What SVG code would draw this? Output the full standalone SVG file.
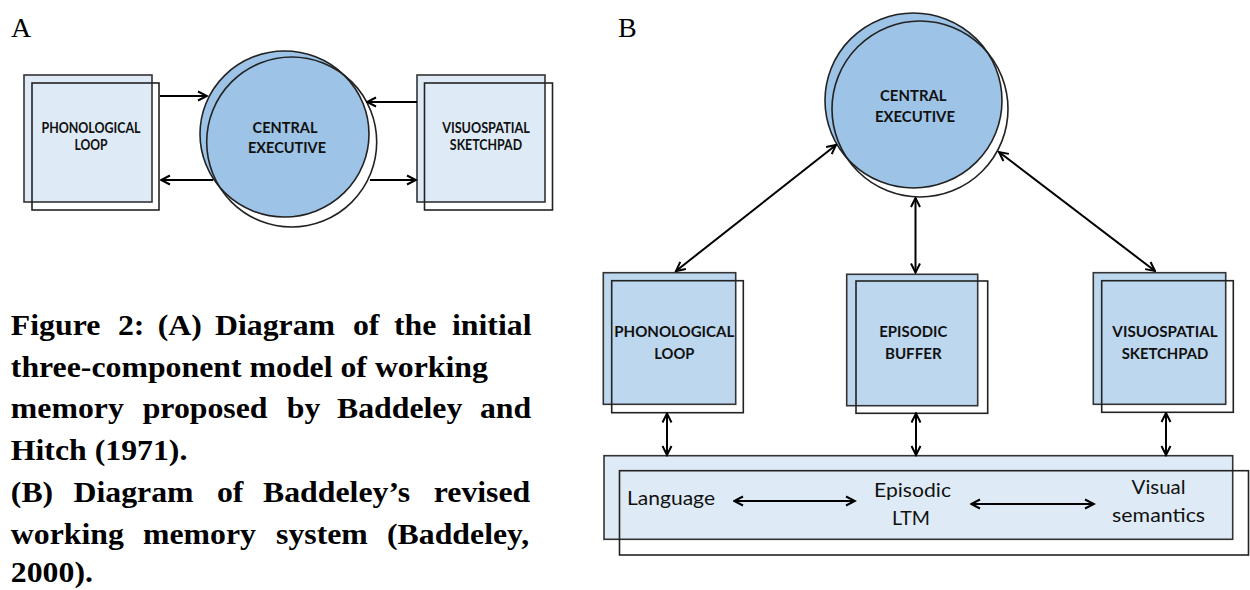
<svg xmlns="http://www.w3.org/2000/svg" width="1250" height="590" viewBox="0 0 1250 590">
<defs>
<marker id="arr" viewBox="0 0 12 12" refX="10.5" refY="6" markerWidth="12" markerHeight="12" markerUnits="userSpaceOnUse" orient="auto-start-reverse">
<path d="M1.5,1.5 L10.5,6 L1.5,10.5" fill="none" stroke="#000" stroke-width="2" stroke-linejoin="miter"/>
</marker>
<style>
.bg{fill:#fff}
.fa{fill:#deebf7;stroke:#333;stroke-width:1.6}
.fb{fill:#bdd7ee;stroke:#333;stroke-width:1.6}
.ce{fill:#9dc3e6;stroke:#222;stroke-width:1.6}
.ol{fill:none;stroke:#222;stroke-width:1.6}
.lbl{font-family:Lato,"Liberation Sans",sans-serif;font-weight:bold;fill:#111;text-anchor:middle}
.reg{font-family:Lato,"Liberation Sans",sans-serif;fill:#111;text-anchor:middle}
.con{stroke:#000;stroke-width:2;fill:none}
.one{marker-end:url(#arr)}
.two{marker-start:url(#arr);marker-end:url(#arr)}
.cap{font-family:"Liberation Serif","Times New Roman",serif;font-weight:bold;font-size:30px;fill:#000}
.pl{font-family:"Liberation Serif","Times New Roman",serif;font-size:28px;fill:#000}
</style>
</defs>
<rect class="bg" x="0" y="0" width="1250" height="590"/>

<text class="pl" x="11" y="37">A</text>
<text class="pl" x="618" y="37">B</text>

<!-- Panel A -->
<g id="a-phonological-loop">
<rect class="fa" x="24" y="75" width="128" height="127"/>
<rect class="ol" x="32" y="83" width="127" height="127"/>
<text class="lbl" font-size="14.5" x="91" y="132.7" textLength="99" lengthAdjust="spacingAndGlyphs">PHONOLOGICAL</text>
<text class="lbl" font-size="14.5" x="91" y="150" textLength="33" lengthAdjust="spacingAndGlyphs">LOOP</text>
</g>
<g id="a-central-executive">
<ellipse class="ce" cx="284.5" cy="134" rx="84.5" ry="83"/>
<ellipse class="ol" cx="291.7" cy="142" rx="85" ry="85"/>
<text class="lbl" font-size="15.5" x="285" y="132.7" textLength="65" lengthAdjust="spacingAndGlyphs">CENTRAL</text>
<text class="lbl" font-size="15.5" x="287" y="152.7" textLength="78" lengthAdjust="spacingAndGlyphs">EXECUTIVE</text>
</g>
<g id="a-visuospatial-sketchpad">
<rect class="fa" x="417" y="75" width="128" height="127"/>
<rect class="ol" x="424.5" y="83" width="128" height="127"/>
<text class="lbl" font-size="14.5" x="486" y="132.7" textLength="87.7" lengthAdjust="spacingAndGlyphs">VISUOSPATIAL</text>
<text class="lbl" font-size="14.5" x="486" y="150" textLength="72.3" lengthAdjust="spacingAndGlyphs">SKETCHPAD</text>
</g>

<!-- Panel B -->
<g id="b-central-executive">
<ellipse class="ce" cx="913.5" cy="100.5" rx="88.5" ry="87.5"/>
<ellipse class="ol" cx="920" cy="109" rx="88" ry="88"/>
<text class="lbl" font-size="15.7" x="913.3" y="100.7" textLength="66.7" lengthAdjust="spacingAndGlyphs">CENTRAL</text>
<text class="lbl" font-size="15.7" x="915" y="122.3" textLength="80" lengthAdjust="spacingAndGlyphs">EXECUTIVE</text>
</g>
<g id="b-phonological-loop">
<rect class="fb" x="603.3" y="272.7" width="132.4" height="131.6"/>
<rect class="ol" x="611.7" y="280.7" width="131.6" height="132"/>
<text class="lbl" font-size="15.7" x="674.3" y="337.3" textLength="120" lengthAdjust="spacingAndGlyphs">PHONOLOGICAL</text>
<text class="lbl" font-size="15.7" x="674.3" y="359" textLength="40" lengthAdjust="spacingAndGlyphs">LOOP</text>
</g>
<g id="b-episodic-buffer">
<rect class="fb" x="846.7" y="274.3" width="131" height="131.4"/>
<rect class="ol" x="856" y="281" width="131.7" height="132.3"/>
<text class="lbl" font-size="15.7" x="913.3" y="337.3" textLength="68" lengthAdjust="spacingAndGlyphs">EPISODIC</text>
<text class="lbl" font-size="15.7" x="913.3" y="359" textLength="56.7" lengthAdjust="spacingAndGlyphs">BUFFER</text>
</g>
<g id="b-visuospatial-sketchpad">
<rect class="fb" x="1093.3" y="272.7" width="132.4" height="131.6"/>
<rect class="ol" x="1101.7" y="280.7" width="131.6" height="131.6"/>
<text class="lbl" font-size="15.7" x="1165" y="337.3" textLength="105.3" lengthAdjust="spacingAndGlyphs">VISUOSPATIAL</text>
<text class="lbl" font-size="15.7" x="1165" y="359" textLength="86.7" lengthAdjust="spacingAndGlyphs">SKETCHPAD</text>
</g>
<g id="b-long-term-memory">
<rect class="fa" x="604" y="455.7" width="628.7" height="83.6"/>
<rect class="ol" x="619.5" y="470.7" width="629" height="84.3"/>
<text class="reg" font-size="19" x="671" y="505" textLength="88" lengthAdjust="spacingAndGlyphs">Language</text>
<text class="reg" font-size="19" x="912.5" y="497" textLength="77" lengthAdjust="spacingAndGlyphs">Episodic</text>
<text class="reg" font-size="19" x="911" y="524.5" textLength="38" lengthAdjust="spacingAndGlyphs">LTM</text>
<text class="reg" font-size="19" x="1158.6" y="493.5" textLength="54" lengthAdjust="spacingAndGlyphs">Visual</text>
<text class="reg" font-size="19" x="1158.6" y="521.5" textLength="93" lengthAdjust="spacingAndGlyphs">semantics</text>
</g>

<g id="connectors">
<line class="con one" x1="160" y1="96" x2="207" y2="96"/>
<line class="con one" x1="213" y1="180" x2="161" y2="180"/>
<line class="con one" x1="417" y1="102" x2="367" y2="102"/>
<line class="con one" x1="370" y1="180" x2="416" y2="180"/>
<line class="con two" x1="676" y1="271" x2="836" y2="145"/>
<line class="con two" x1="915.5" y1="198" x2="915.5" y2="272.5"/>
<line class="con two" x1="999" y1="152" x2="1155" y2="271"/>
<line class="con two" x1="667" y1="413.5" x2="667" y2="455"/>
<line class="con two" x1="916" y1="413.5" x2="916" y2="455"/>
<line class="con two" x1="1166" y1="413" x2="1166" y2="455"/>
<line class="con two" x1="734" y1="501" x2="855" y2="501"/>
<line class="con two" x1="971" y1="504" x2="1094" y2="504"/>
</g>

<g id="caption" transform="scale(1.06,1)">
<text class="cap" y="335"><tspan x="10.2">Figure</tspan><tspan x="111.3">2:</tspan><tspan x="148.8">(A)</tspan><tspan x="202.8">Diagram</tspan><tspan x="333">of</tspan><tspan x="371.7">the</tspan><tspan x="426.4">initial</tspan></text>
<text class="cap" x="10.2" y="377">three-component model of working</text>
<text class="cap" y="418"><tspan x="10.2">memory</tspan><tspan x="134.6">proposed</tspan><tspan x="270.5">by</tspan><tspan x="317.9">Baddeley</tspan><tspan x="452.8">and</tspan></text>
<text class="cap" x="10.2" y="460">Hitch (1971).</text>
<text class="cap" y="502"><tspan x="10.2">(B)</tspan><tspan x="69.3">Diagram</tspan><tspan x="204.7">of</tspan><tspan x="248.1">Baddeley’s</tspan><tspan x="409.2">revised</tspan></text>
<text class="cap" y="544"><tspan x="10.2">working</tspan><tspan x="134.9">memory</tspan><tspan x="260.4">system</tspan><tspan x="365.1">(Baddeley,</tspan></text>
<text class="cap" x="10.2" y="582">2000).</text>
</g>
</svg>
